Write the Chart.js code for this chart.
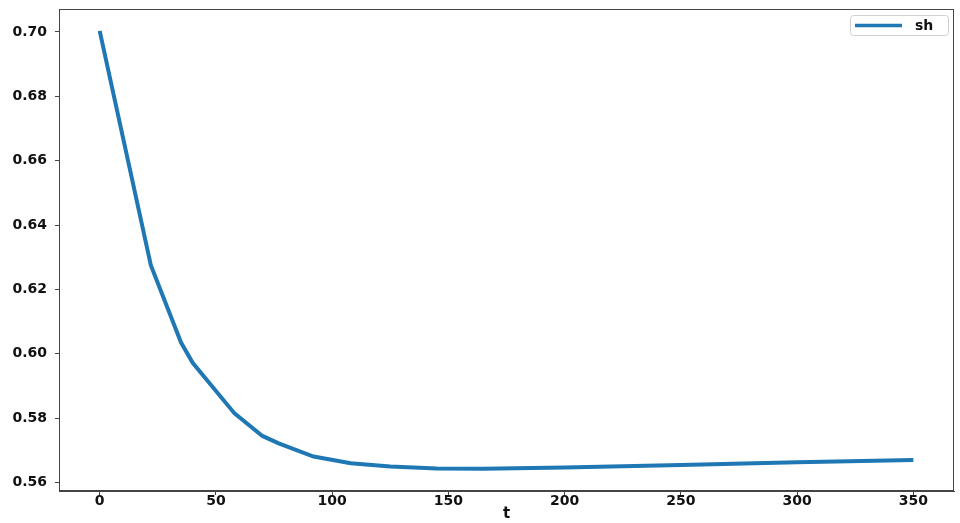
<!DOCTYPE html>
<html>
<head>
<meta charset="utf-8">
<script src="https://cdn.jsdelivr.net/npm/chart.js@4/dist/chart.umd.min.js"></script>
<style>
  html, body { margin: 0; padding: 0; background: #fff; }
  #wrap { width: 960px; height: 523px; }
</style>
</head>
<body>
<div id="wrap"><canvas id="chart"></canvas></div>
<script>
// sampled points of the curve
const tValues = [0, 22, 35, 40, 58, 70, 77, 92, 108, 125, 145, 165, 200, 250, 300, 350];
const shValues = [0.7003, 0.6275, 0.6035, 0.5972, 0.5815, 0.5745, 0.5722, 0.5681, 0.5660, 0.5650, 0.5644, 0.5643, 0.5647, 0.5655, 0.5663, 0.5670];

// tick labels
const xTicks = [0, 50, 100, 150, 200, 250, 300, 350];
const yTicks = [0.56, 0.58, 0.60, 0.62, 0.64, 0.66, 0.68, 0.70];

const seriesName = 'sh';
const lineColor = '#1f77b4';
const axisColor = '#444';
const tickFont = { family: 'DejaVu Sans', weight: 'bold', size: 14 };

const points = tValues.map((t, i) => ({ x: t, y: shValues[i] }));

// box around plot + legend in upper right, like matplotlib
const framePlugin = {
  id: 'frame',
  afterDraw(chart) {
    const ctx = chart.ctx;
    const a = chart.chartArea;
    ctx.save();
    ctx.strokeStyle = axisColor;
    ctx.lineWidth = 1;
    ctx.strokeRect(a.left + 0.5, a.top + 0.5, a.right - a.left - 1, a.bottom - a.top - 1);

    // legend
    const w = 98, h = 20;
    const lx = a.right - 6 - w, ly = a.top + 6;
    ctx.fillStyle = 'rgba(255,255,255,0.8)';
    ctx.strokeStyle = '#d0d0d0';
    ctx.beginPath();
    ctx.roundRect(lx + 0.5, ly + 0.5, w, h, 3);
    ctx.fill();
    ctx.stroke();

    ctx.strokeStyle = lineColor;
    ctx.lineWidth = 3.5;
    ctx.beginPath();
    ctx.moveTo(lx + 5, ly + h / 2 + 0.5);
    ctx.lineTo(lx + 52, ly + h / 2 + 0.5);
    ctx.stroke();

    ctx.fillStyle = '#111';
    ctx.font = 'bold 14px "DejaVu Sans"';
    ctx.textBaseline = 'middle';
    ctx.fillText(seriesName, lx + 65, ly + h / 2 + 1);
    ctx.restore();
  }
};

new Chart(document.getElementById('chart'), {
  type: 'line',
  plugins: [framePlugin],
  data: {
    datasets: [{
      label: seriesName,
      data: points,
      borderColor: lineColor,
      borderWidth: 4,
      borderCapStyle: 'butt',
      pointRadius: 0,
      tension: 0,
      fill: false
    }]
  },
  options: {
    responsive: true,
    maintainAspectRatio: false,
    animation: false,
    layout: { padding: { top: 9, right: 6, left: 0, bottom: 0 } },
    plugins: {
      legend: { display: false },
      tooltip: { enabled: false }
    },
    scales: {
      x: {
        type: 'linear',
        min: -17.5,
        max: 367.5,
        afterBuildTicks: (axis) => { axis.ticks = xTicks.map(v => ({ value: v })); },
        afterFit: (axis) => {
          axis.height = 32;
          axis.paddingLeft = 0;
          axis.paddingRight = 0;
        },
        grid: { drawOnChartArea: false, tickLength: 4, color: axisColor },
        border: { color: axisColor },
        ticks: { color: '#111', font: tickFont, padding: -2, maxRotation: 0 },
        title: {
          display: true,
          text: 't',
          color: '#111',
          font: { family: 'DejaVu Sans', weight: 'bold', size: 15 },
          padding: 0
        }
      },
      y: {
        min: 0.5574,
        max: 0.7071,
        afterBuildTicks: (axis) => { axis.ticks = yTicks.map(v => ({ value: v })); },
        afterFit: (axis) => {
          axis.width = 59;
          axis.paddingTop = 0;
          axis.paddingBottom = 0;
        },
        grid: { drawOnChartArea: false, tickLength: 4, color: axisColor },
        border: { color: axisColor },
        ticks: {
          color: '#111',
          font: tickFont,
          padding: 8,
          callback: (v) => v.toFixed(2)
        }
      }
    }
  }
});
</script>
</body>
</html>
